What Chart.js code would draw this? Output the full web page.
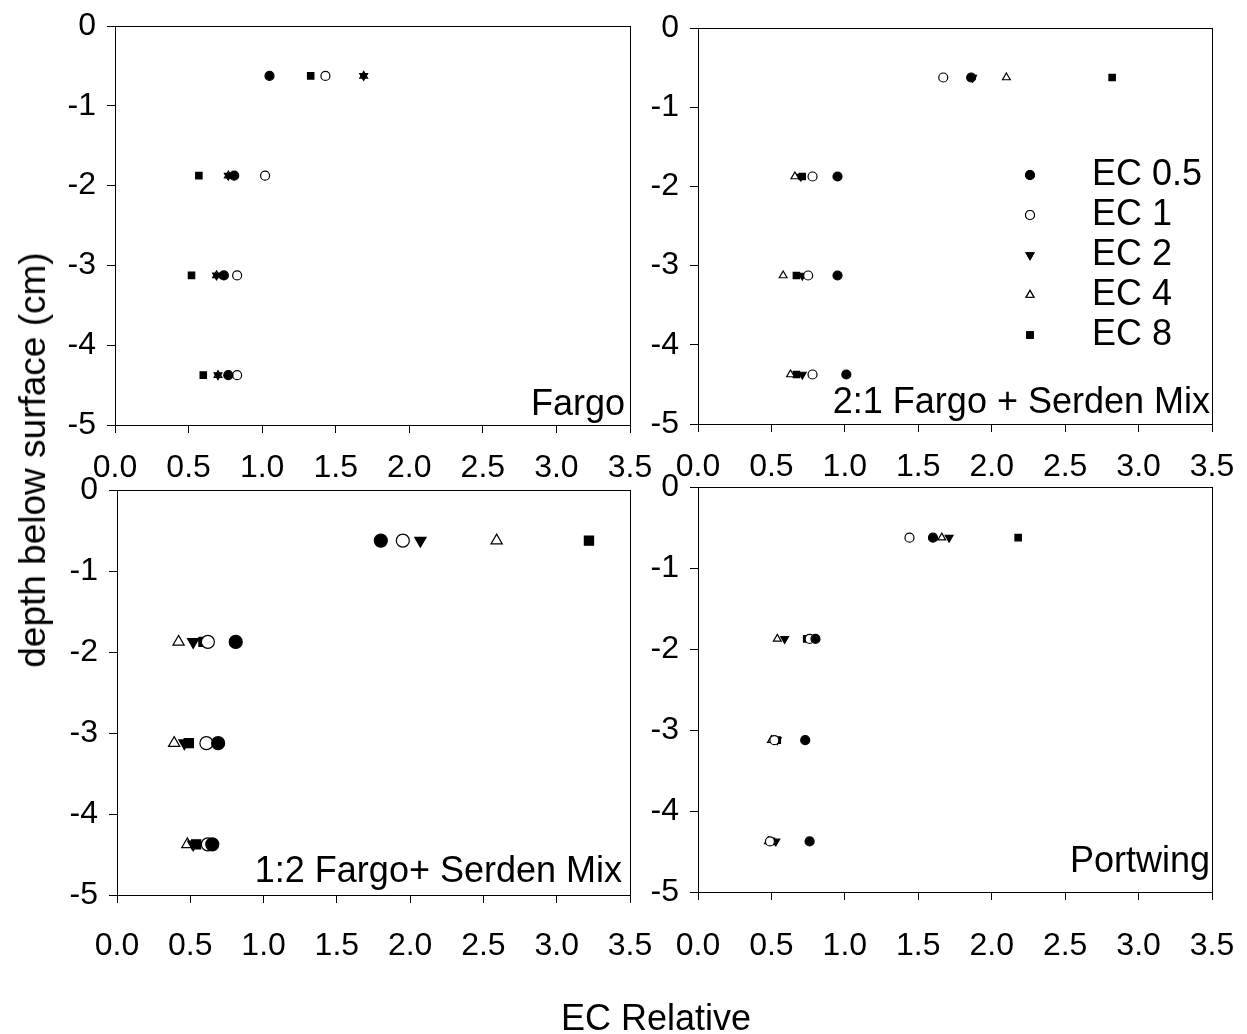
<!DOCTYPE html>
<html>
<head>
<meta charset="utf-8">
<script src="https://cdn.jsdelivr.net/npm/chart.js@4.4.0/dist/chart.umd.min.js"></script>
<style>
  body { margin: 0; background: #fff; width: 1247px; height: 1034px; overflow: hidden; position: relative; font-family: "Liberation Sans", Arial, sans-serif; }
  canvas { position: absolute; left: 0; top: 0; }
  .title { position: absolute; font-size: 36px; color: #000; white-space: nowrap; }
</style>
</head>
<body>
<canvas id="c1" width="1247" height="1034"></canvas>
<canvas id="c2" width="1247" height="1034"></canvas>
<canvas id="c3" width="1247" height="1034"></canvas>
<canvas id="c4" width="1247" height="1034"></canvas>
<div class="title" style="left:33px;top:460px;font-size:37px;transform:translate(-50%,-50%) rotate(-90deg);">depth below surface (cm)</div>
<div class="title" style="left:656px;top:1018px;transform:translate(-50%,-50%);">EC Relative</div>
<script>
const depths = [-0.625, -1.875, -3.125, -4.375];
const seriesNames = ["EC 0.5", "EC 1", "EC 2", "EC 4", "EC 8"];
const xTicks = [0, 0.5, 1, 1.5, 2, 2.5, 3, 3.5];
const yTicks = [0, -1, -2, -3, -4, -5];

// EC relative per series, one value per depth
const fargo = [
  [1.05, 0.81, 0.74, 0.77],
  [1.43, 1.02, 0.83, 0.83],
  [1.69, 0.77, 0.69, 0.70],
  [1.69, 0.77, 0.69, 0.70],
  [1.33, 0.57, 0.52, 0.60]
];
const mix21 = [
  [1.86, 0.95, 0.95, 1.01],
  [1.67, 0.78, 0.75, 0.78],
  [1.87, 0.70, 0.71, 0.71],
  [2.10, 0.66, 0.58, 0.63],
  [2.82, 0.71, 0.67, 0.67]
];
const mix12 = [
  [1.80, 0.81, 0.69, 0.65],
  [1.95, 0.62, 0.61, 0.62],
  [2.07, 0.52, 0.46, 0.52],
  [2.59, 0.42, 0.39, 0.48],
  [3.22, 0.59, 0.49, 0.54]
];
const portwing = [
  [1.60, 0.80, 0.73, 0.76],
  [1.44, 0.76, 0.52, 0.49],
  [1.71, 0.59, 0.54, 0.53],
  [1.66, 0.54, 0.50, 0.48],
  [2.18, 0.74, 0.54, 0.50]
];

const FONT = "'Liberation Sans', Arial, sans-serif";
const W = 1247, H = 1034;
const YW = 60, XH = 90;

const markers = [
  { pointStyle: 'circle', fill: '#000', rot: 0 },
  { pointStyle: 'circle', fill: '#fff', rot: 0 },
  { pointStyle: 'triangle', fill: '#000', rot: 180 },
  { pointStyle: 'triangle', fill: '#fff', rot: 0 },
  { pointStyle: 'rect', fill: '#000', rot: 0 }
];

const boxPlugin = {
  id: 'box',
  afterDraw(chart) {
    const { ctx, chartArea: a } = chart;
    ctx.save();
    ctx.strokeStyle = '#000';
    ctx.lineWidth = 1;
    ctx.strokeRect(Math.round(a.left) + 0.5, Math.round(a.top) + 0.5, Math.round(a.right - a.left), Math.round(a.bottom - a.top));
    ctx.restore();
  }
};

const labelPlugin = {
  id: 'panelLabel',
  afterDraw(chart, args, opts) {
    const ctx = chart.ctx;
    ctx.save();
    ctx.font = `36px ${FONT}`;
    ctx.fillStyle = '#000';
    ctx.textAlign = 'right';
    ctx.textBaseline = 'middle';
    ctx.fillText(opts.text, opts.x, opts.y);
    if (opts.legend) {
      const lg = opts.legend;
      chart.data.datasets.forEach((ds, i) => {
        const y = lg.y + i * lg.step;
        Chart.helpers.drawPoint(ctx, {
          pointStyle: ds.pointStyle, radius: 4.5, rotation: ds.rotation,
          borderWidth: 1.2
        }, lg.mx, y);
        ctx.fillStyle = ds.backgroundColor;
        ctx.strokeStyle = '#000';
        ctx.lineWidth = 1.2;
        ctx.fill();
        ctx.stroke();
        ctx.fillStyle = '#000';
        ctx.textAlign = 'left';
        ctx.fillText(ds.label, lg.tx, y);
      });
    }
    ctx.restore();
  }
};

function makeChart(id, values, area, radius, label, legend, xPad) {
  const [L, T, R, B] = area;
  const datasets = values.map((vals, i) => ({
    label: seriesNames[i],
    data: vals.map((v, j) => ({ x: v, y: depths[j] })),
    pointStyle: markers[i].pointStyle,
    rotation: markers[i].rot,
    backgroundColor: markers[i].fill,
    borderColor: '#000',
    borderWidth: 1.2,
    pointRadius: radius,
    showLine: false
  }));
  return new Chart(document.getElementById(id), {
    type: 'scatter',
    data: { datasets },
    plugins: [boxPlugin, labelPlugin],
    options: {
      responsive: false,
      animation: false,
      events: [],
      layout: { padding: { left: L - YW, top: T, right: W - R, bottom: H - B - XH } },
      plugins: {
        legend: { display: false },
        tooltip: { enabled: false },
        panelLabel: { text: label.text, x: label.x, y: label.y, legend }
      },
      scales: {
        x: {
          type: 'linear', min: 0, max: 3.5,
          afterFit: s => { s.height = XH; s.paddingLeft = 0; s.paddingRight = 0; },
          afterBuildTicks: s => { s.ticks = xTicks.map(v => ({ value: v })); },
          ticks: { font: { family: FONT, size: 32 }, color: '#000', padding: xPad, maxRotation: 0,
            autoSkip: false, callback: v => v.toFixed(1) },
          grid: { drawOnChartArea: false, drawTicks: true, tickLength: 8, color: '#000' },
          border: { color: '#000' }
        },
        y: {
          type: 'linear', min: -5, max: 0,
          afterFit: s => { s.width = YW; s.paddingTop = 0; s.paddingBottom = 0; },
          afterBuildTicks: s => { s.ticks = yTicks.map(v => ({ value: v })); },
          ticks: { font: { family: FONT, size: 32 }, color: '#000', padding: 11,
            callback: v => String(v) },
          grid: { drawOnChartArea: false, drawTicks: true, tickLength: 8, color: '#000' },
          border: { color: '#000' }
        }
      }
    }
  });
}

makeChart('c1', fargo, [115, 26, 630, 425], 4.5, { text: 'Fargo', x: 625, y: 405 }, null, 16);
makeChart('c2', mix21, [698, 28, 1212, 424], 4.5, { text: '2:1 Fargo + Serden Mix', x: 1210, y: 403 },
  { mx: 1030, tx: 1092, y: 175, step: 40 }, 16);
makeChart('c3', mix12, [117, 490, 630, 895], 6.5, { text: '1:2 Fargo+ Serden Mix', x: 622, y: 872 }, null, 24);
makeChart('c4', portwing, [698, 487, 1212, 892], 4.5, { text: 'Portwing', x: 1210, y: 862 }, null, 27);
</script>
</body>
</html>
